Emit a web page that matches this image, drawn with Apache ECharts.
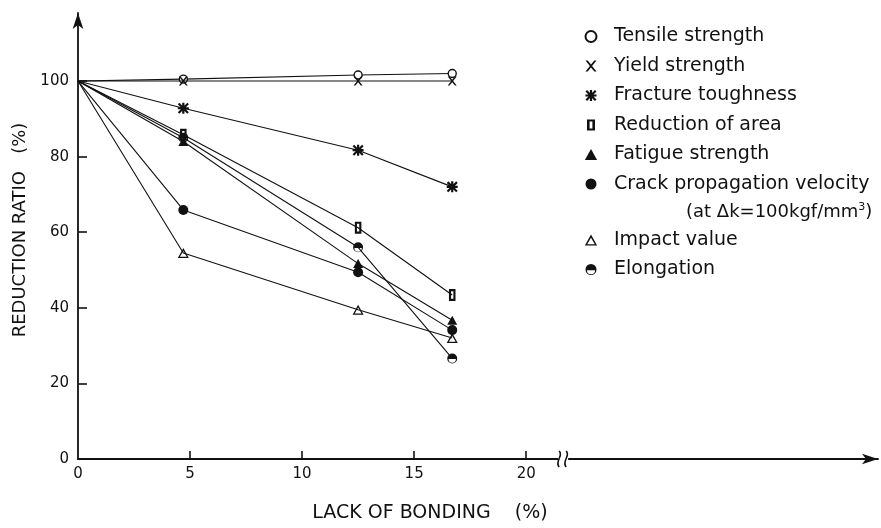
<!DOCTYPE html>
<html>
<head>
<meta charset="utf-8">
<script src="https://cdn.jsdelivr.net/npm/echarts@6/dist/echarts.min.js"></script>
<style>
html,body{margin:0;padding:0;background:#fff;}
#chart{width:881px;height:528px;}
</style>
</head>
<body>
<div id="chart"></div>
<script>
// ---- data ----
const lackOfBonding = [0, 4.7, 12.5, 16.7];
const tensileStrength = [100, 100.5, 101.6, 102];
const yieldStrength = [100, 100, 100, 100];
const fractureToughness = [100, 92.8, 81.7, 72];
const reductionOfArea = [100, 85.8, 61.2, 43.4];
const fatigueStrength = [100, 84, 51.7, 36.7];
const crackPropagation = [100, 65.9, 49.4, 34.1];
const impactValue = [100, 54.5, 39.5, 32];
const elongation = [100, 85, 56, 26.6];
const xTickValues = [5, 10, 15, 20];
const xLabelValues = [0, 5, 10, 15, 20];
const yTickValues = [20, 40, 60, 80, 100];
const yLabelValues = [0, 20, 40, 60, 80, 100];
const axisBreakAt = 21.65;
const crackNote = '(at Δk=100kgf/mm3)';

// ---- symbols ----
const SYM_X = 'path://M0,0 L2,0 L5,3.6 L8,0 L10,0 L6,5 L10,10 L8,10 L5,6.4 L2,10 L0,10 L4,5 Z';
const SYM_STAR = 'path://M0,4 L10,4 L10,6 L0,6 Z M4,0 L6,0 L6,10 L4,10 Z M0,1.4 L1.4,0 L10,8.6 L8.6,10 Z M8.6,0 L10,1.4 L1.4,10 L0,8.6 Z';
const SYM_RECT = 'path://M0,0 L8,0 L8,11 L0,11 Z M2.6,2 L2.6,9 L5.4,9 L5.4,2 Z';
const SYM_HALF = 'path://M0,5 A5,5 0 0 1 10,5 A5,5 0 0 1 0,5 Z M1.3,5.6 A3.7,3.7 0 0 0 8.7,5.6 Z';
const SYM_TRI = 'path://M5,0 L10,9 L0,9 Z';
const SYM_TRI_OPEN = 'path://M5,0 L10,9 L0,9 Z M5,2.6 L1.9,7.9 L8.1,7.9 Z';

function pairs(vals) {
  return vals.map((v, i) => i === 0
    ? { value: [lackOfBonding[i], v], symbol: 'none' }
    : [lackOfBonding[i], v]);
}

const FONT = 'DejaVu Sans';
const seriesDefs = [
  { name: 'Tensile strength', data: tensileStrength, symbol: 'circle', size: 8, fill: '#fff', border: 1.4 },
  { name: 'Yield strength', data: yieldStrength, symbol: SYM_X, size: 9, fill: '#111', border: 0 },
  { name: 'Fracture toughness', data: fractureToughness, symbol: SYM_STAR, size: 11, fill: '#111', border: 0 },
  { name: 'Fatigue strength', data: fatigueStrength, symbol: SYM_TRI, size: 10, fill: '#111', border: 0 },
  { name: 'Crack propagation velocity', data: crackPropagation, symbol: 'circle', size: 10, fill: '#111', border: 0 },
  { name: 'Impact value', data: impactValue, symbol: SYM_TRI_OPEN, size: 11, fill: '#111', border: 0 },
  { name: 'Elongation', data: elongation, symbol: SYM_HALF, size: 10, fill: '#111', border: 0 },
  { name: 'Reduction of area', data: reductionOfArea, symbol: SYM_RECT, size: [9, 12], fill: '#111', border: 0 }
];

const series = seriesDefs.map((d, k) => ({
  name: d.name,
  type: 'line',
  data: pairs(d.data),
  symbol: d.symbol,
  symbolSize: d.size,
  symbolKeepAspect: true,
  showSymbol: true,
  z: 3 + k,
  lineStyle: { color: '#111', width: 1.1 },
  itemStyle: { color: d.fill, borderColor: '#111', borderWidth: d.border },
  emphasis: { disabled: true },
  animation: false
}));

// legend-only entry carrying the second line of the crack-propagation caption
series.push({
  name: crackNote,
  type: 'line',
  data: [],
  itemStyle: { color: 'rgba(0,0,0,0)' },
  lineStyle: { color: 'rgba(0,0,0,0)' }
});

series.push({
  type: 'custom',
  name: 'break',
  coordinateSystem: 'cartesian2d',
  clip: false,
  silent: true,
  z: 20,
  data: [[axisBreakAt, 0]],
  renderItem: function (params, api) {
    const p = api.coord([api.value(0), api.value(1)]);
    const sq = (dx) => ({
      type: 'bezierCurve',
      shape: { x1: p[0] + dx, y1: p[1] - 8, cpx1: p[0] + dx + 5, cpy1: p[1] - 3,
               cpx2: p[0] + dx - 5, cpy2: p[1] + 2, x2: p[0] + dx, y2: p[1] + 8 },
      style: { stroke: '#111', lineWidth: 1.6, fill: null }
    });
    return {
      type: 'group',
      children: [
        { type: 'rect', shape: { x: p[0] - 5, y: p[1] - 3, width: 10, height: 6 }, style: { fill: '#fff' } },
        sq(-4), sq(3)
      ]
    };
  }
});

const legendIcons = {
  'Tensile strength': 'circle',
  'Yield strength': SYM_X,
  'Fracture toughness': SYM_STAR,
  'Reduction of area': SYM_RECT,
  'Fatigue strength': SYM_TRI,
  'Crack propagation velocity': 'circle',
  'Impact value': SYM_TRI_OPEN,
  'Elongation': SYM_HALF
};
legendIcons[crackNote] = 'none';
const legendOrder = ['Tensile strength', 'Yield strength', 'Fracture toughness', 'Reduction of area',
  'Fatigue strength', 'Crack propagation velocity', crackNote, 'Impact value', 'Elongation'];

const chart = echarts.init(document.getElementById('chart'), null, { renderer: 'canvas' });
chart.setOption({
  backgroundColor: '#fff',
  animation: false,
  grid: { left: 78, right: 3, top: 13, bottom: 57, containLabel: false },
  legend: {
    orient: 'vertical',
    left: 568,
    top: 18,
    itemWidth: 36,
    itemHeight: 11,
    itemGap: 2.5,
    symbolKeepAspect: true,
    selectedMode: false,
    data: legendOrder.map(n => ({ name: n, icon: legendIcons[n] })),
    textStyle: {
      fontFamily: FONT, fontSize: 19, color: '#111', lineHeight: 27,
      rich: {
        ind: { fontFamily: FONT, fontSize: 18, color: '#111', padding: [0, 0, 0, 72], lineHeight: 24 },
        sup: { fontFamily: FONT, fontSize: 11, color: '#111', padding: [0, 0, 9, 0], lineHeight: 24 },
        n: { fontFamily: FONT, fontSize: 18, color: '#111', lineHeight: 24 }
      }
    },
    formatter: function (name) {
      if (name === crackNote) {
        return '{ind|' + crackNote.slice(0, -2) + '}{sup|' + crackNote.slice(-2, -1) + '}{n|)}';
      }
      return name;
    }
  },
  xAxis: {
    type: 'value',
    min: 0,
    max: 35.7,
    name: 'LACK OF BONDING    (%)',
    nameLocation: 'middle',
    nameGap: 45,
    nameTextStyle: { fontFamily: FONT, fontSize: 19, color: '#111', padding: [0, 96, 0, 0] },
    axisLine: { show: true, symbol: ['none', 'arrow'], symbolSize: [8, 16], lineStyle: { color: '#111', width: 1.8 } },
    axisTick: { show: true, inside: true, length: 8, customValues: xTickValues, lineStyle: { color: '#111', width: 1.6 } },
    axisLabel: { customValues: xLabelValues, margin: 8, fontFamily: FONT, fontSize: 15, color: '#111' },
    splitLine: { show: false }
  },
  yAxis: {
    type: 'value',
    min: 0,
    max: 118,
    name: 'REDUCTION RATIO   (%)',
    nameLocation: 'middle',
    nameGap: 35,
    nameRotate: 90,
    nameTextStyle: { fontFamily: FONT, fontSize: 18, color: '#111', padding: [0, 0, 0, 12] },
    axisLine: { show: true, symbol: ['none', 'arrow'], symbolSize: [8, 16], lineStyle: { color: '#111', width: 1.8 } },
    axisTick: { show: true, inside: true, length: 9, customValues: yTickValues, lineStyle: { color: '#111', width: 1.6 } },
    axisLabel: { customValues: yLabelValues, margin: 9, fontFamily: FONT, fontSize: 15, color: '#111' },
    splitLine: { show: false }
  },
  series: series
});
</script>
</body>
</html>
